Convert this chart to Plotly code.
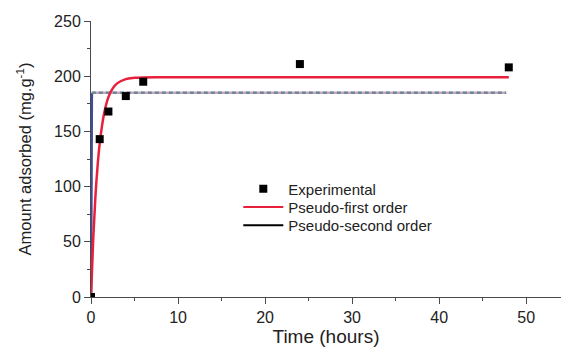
import plotly.graph_objects as go

# Experimental uptake
t_exp = [0, 1, 2, 4, 6, 24, 48]
q_exp = [0, 143, 168, 182, 195, 211, 208]

# Pseudo-first order fit curve
t_pfo = [0, 0.25, 0.5, 0.75, 1, 1.5, 2, 2.5, 3, 4, 5, 6, 8, 10, 48]
q_pfo = [0, 52, 90, 118, 139, 166, 181, 189, 193.5, 197.4, 198.5, 198.9, 199, 199, 199]

# Pseudo-second order fit curve (near-instant rise then plateau)
t_pso_rise = [0, 0.1]
q_pso_rise = [0, 185]
t_pso_flat = [0.1, 47.7]
q_pso_flat = [185, 185]

x_ticks = [0, 10, 20, 30, 40, 50]
y_ticks = [0, 50, 100, 150, 200, 250]

FONT = "Arial, Liberation Sans, sans-serif"
AXIS_COLOR = "#4a4a4a"
TEXT_COLOR = "#222"

fig = go.Figure()

fig.add_trace(go.Scatter(
    x=t_pso_rise, y=q_pso_rise, mode="lines",
    line=dict(color="#3a4ea3", width=2.5), showlegend=False,
))
fig.add_trace(go.Scatter(
    x=t_pso_flat, y=q_pso_flat, mode="lines",
    line=dict(color="#c8a6c8", width=2.5), showlegend=False,
))
fig.add_trace(go.Scatter(
    x=t_pso_flat, y=q_pso_flat, mode="lines",
    line=dict(color="#6d8a92", width=2.5, dash="4px,3px"), showlegend=False,
))
fig.add_trace(go.Scatter(
    x=t_pfo, y=q_pfo, mode="lines", line_shape="spline",
    line=dict(color="#e8203c", width=2.5), showlegend=False,
))
fig.add_trace(go.Scatter(
    x=t_exp, y=q_exp, mode="markers", name="Experimental",
    marker=dict(symbol="square", size=8, color="black"),
    legend="legend",
))
# legend entries for the fitted models
fig.add_trace(go.Scatter(
    x=[None], y=[None], mode="lines", name="Pseudo-first order",
    line=dict(color="#e8203c", width=2), legend="legend2",
))
fig.add_trace(go.Scatter(
    x=[None], y=[None], mode="lines", name="Pseudo-second order",
    line=dict(color="black", width=2), legend="legend3",
))

axis_common = dict(
    showline=True, linecolor=AXIS_COLOR, linewidth=1,
    showgrid=False, zeroline=False,
    ticks="outside", tickcolor=AXIS_COLOR, ticklen=6, tickwidth=1,
    tickfont=dict(family=FONT, size=16, color=TEXT_COLOR),
)

fig.update_xaxes(
    range=[0, 54], tickvals=x_ticks,
    minor=dict(ticks="outside", ticklen=3, tickcolor=AXIS_COLOR, dtick=5, tick0=0),
    title=dict(text="Time (hours)", font=dict(family=FONT, size=19, color=TEXT_COLOR), standoff=7),
    **axis_common,
)
fig.update_yaxes(
    range=[0, 250], tickvals=y_ticks,
    minor=dict(ticks="outside", ticklen=3, tickcolor=AXIS_COLOR, dtick=25, tick0=0),
    title=dict(text="Amount adsorbed (mg.g<sup>-1</sup>)",
               font=dict(family=FONT, size=16.5, color=TEXT_COLOR), standoff=18),
    **axis_common,
)

legend_common = dict(
    x=0.3134, xanchor="left", yanchor="middle", itemwidth=40,
    bgcolor="rgba(0,0,0,0)", font=dict(family=FONT, size=15, color=TEXT_COLOR),
)

fig.update_layout(
    width=561, height=347,
    margin=dict(l=91, r=0, t=21, b=48),
    paper_bgcolor="white", plot_bgcolor="white",
    font=dict(family=FONT, color=TEXT_COLOR),
    legend=dict(y=0.391, **legend_common),
    legend2=dict(y=0.325, **legend_common),
    legend3=dict(y=0.259, **legend_common),
)

fig.write_html("out.html")
